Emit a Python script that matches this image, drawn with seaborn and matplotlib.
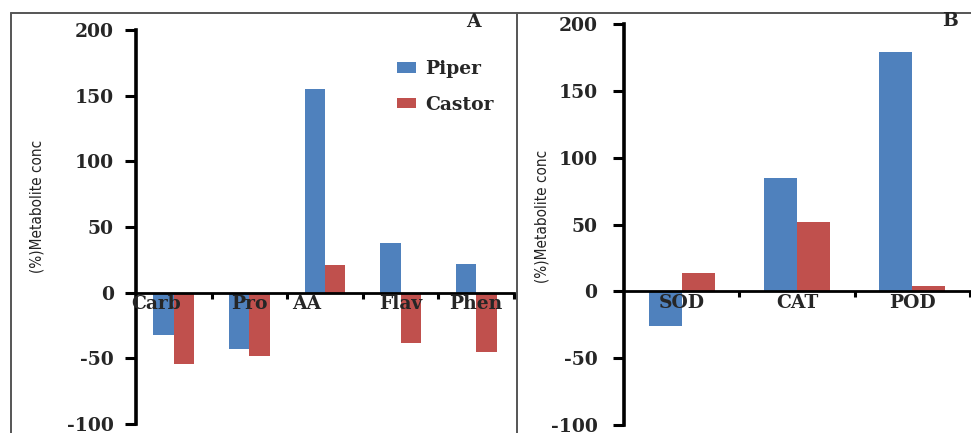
import matplotlib
matplotlib.use("Agg")
import matplotlib.pyplot as plt
from matplotlib.lines import Line2D
from matplotlib.transforms import ScaledTranslation
import numpy as np
import pandas as pd
import seaborn as sns

# ---- data -------------------------------------------------------------
metabolites = ["Carb", "Pro", "AA", "Flav", "Phen"]
piper_metab = [-32, -43, 155, 38, 22]
castor_metab = [-54, -48, 21, -38, -45]

enzymes = ["SOD", "CAT", "POD"]
piper_enz = [-26, 85, 179]
castor_enz = [14, 52, 4]

series_names = ["Piper", "Castor"]
y_ticks = [-100, -50, 0, 50, 100, 150, 200]
y_label = "(%)Metabolite conc"
panel_letters = ["A", "B"]

colors = {"Piper": "#4F81BD", "Castor": "#C0504D"}


def long_table(cats, a, b):
    return pd.DataFrame({
        "cat": list(cats) * 2,
        "val": list(a) + list(b),
        "series": [series_names[0]] * len(cats) + [series_names[1]] * len(cats),
    })


sns.set_theme(style="white")
plt.rcParams["font.family"] = ["DejaVu Serif"]

fig = plt.figure(figsize=(9.71, 4.33), dpi=100)
W, H = 971, 433


def px_axes(x0, x1, ytop, ybot):
    return fig.add_axes([x0 / W, 1 - ybot / H, (x1 - x0) / W, (ybot - ytop) / H])


axA = px_axes(136, 514, 30, 424)
axB = px_axes(624, 970, 24, 425)

tick_font = dict(family="DejaVu Serif", weight="bold", size=13.5)


def style_panel(ax, cats, tick_pad, label_xy, label_offsets=None):
    ax.set_axisbelow(False)  # category labels sit on top of the bars
    ax.set_ylim(-100, 200)
    ax.set_yticks(y_ticks)
    ax.set_yticklabels([str(v) for v in y_ticks], fontdict=tick_font)
    ax.set_xlim(-0.5, len(cats) - 0.5)
    for s in ("top", "right"):
        ax.spines[s].set_visible(False)
    ax.spines["left"].set_linewidth(2.6)
    ax.spines["left"].set_color("black")
    ax.spines["bottom"].set_position(("data", 0))
    ax.spines["bottom"].set_linewidth(2.0)
    ax.spines["bottom"].set_color("black")
    ax.tick_params(axis="y", direction="out", length=8, width=2.2,
                   color="black", pad=tick_pad, left=True)
    # category labels at centres, tick marks at category boundaries
    ax.set_xticks(range(len(cats)))
    ax.set_xticklabels(cats, fontdict=tick_font)
    ax.set_xticks(np.arange(0.5, len(cats) - 0.4, 1.0), minor=True)
    ax.tick_params(axis="x", which="major", length=0, pad=2)
    ax.tick_params(axis="x", which="minor", direction="out", length=4,
                   width=2.2, color="black", bottom=True)
    ax.set_xlabel("")
    ax.set_ylabel(y_label, family="DejaVu Sans", fontstretch="condensed",
                  fontsize=11, color="#222222")
    ax.yaxis.label.set_va("center")
    ax.yaxis.set_label_coords(*label_xy)
    ax.set_facecolor("white")
    if label_offsets:
        for lab, dx in zip(ax.get_xticklabels(), label_offsets):
            lab.set_transform(lab.get_transform() +
                              ScaledTranslation(dx / 72, 0, fig.dpi_scale_trans))


dfA = long_table(metabolites, piper_metab, castor_metab)
sns.barplot(data=dfA, x="cat", y="val", hue="series", order=metabolites,
            hue_order=series_names, palette=colors, width=0.54, saturation=1,
            errorbar=None, linewidth=0, ax=axA)

dfB = long_table(enzymes, piper_enz, castor_enz)
sns.barplot(data=dfB, x="cat", y="val", hue="series", order=enzymes,
            hue_order=series_names, palette=colors, width=0.57, saturation=1,
            errorbar=None, linewidth=0, legend=False, ax=axB)

style_panel(axA, metabolites, 8, (-0.262, 0.551), [-13, 0, -13, 0, 0])
style_panel(axB, enzymes, 11, (-0.236, 0.521))

handles, labels = axA.get_legend_handles_labels()
axA.legend(handles, labels, loc="upper left",
           bbox_to_anchor=(380 / W, 1 - 43 / H), bbox_transform=fig.transFigure,
           frameon=False, handlelength=1.0, handleheight=0.5, handletextpad=0.5,
           labelspacing=0.95, prop=dict(family="DejaVu Serif", weight="bold", size=13.5))

fig.text(473 / W, 1 - 22 / H, panel_letters[0], ha="center", va="center", **tick_font)
fig.text(950 / W, 1 - 21 / H, panel_letters[1], ha="center", va="center", **tick_font)

# panel frames
frame = dict(color="#555555", linewidth=1.4, transform=fig.transFigure)
fig.add_artist(Line2D([11 / W, 11 / W], [0, 1 - 13 / H], **frame))
fig.add_artist(Line2D([11 / W, 1], [1 - 13 / H, 1 - 13 / H], **frame))
fig.add_artist(Line2D([517 / W, 517 / W], [0, 1 - 13 / H], **frame))

fig.savefig("out.png", dpi=100, facecolor="white")
